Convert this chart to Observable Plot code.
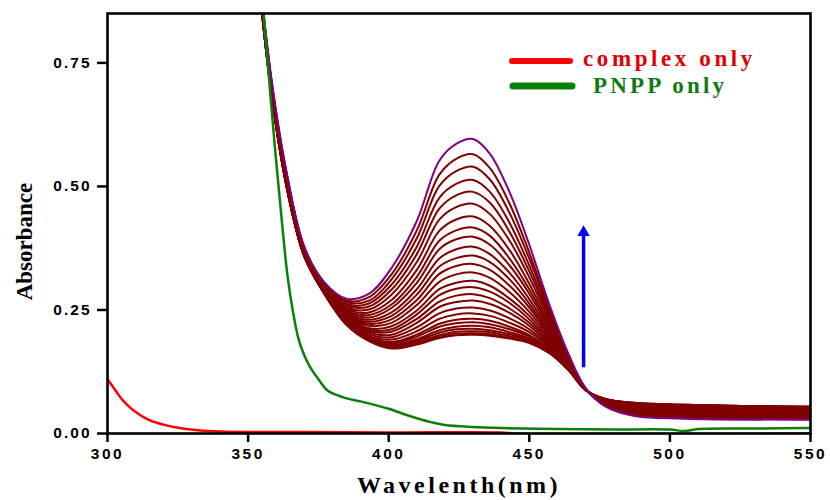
<!DOCTYPE html>
<html>
<head>
<meta charset="utf-8">
<script src="https://cdn.jsdelivr.net/npm/d3@7"></script>
<script src="https://cdn.jsdelivr.net/npm/@observablehq/plot@0.6"></script>
<style>
  body { margin: 0; background: #fff; }
</style>
</head>
<body>
<div id="chart"></div>
<script>
// ---- Data ----
const wavelengths = [352, 358, 364, 370, 377, 385, 393, 401, 410, 418, 424, 430, 436, 443, 450, 457, 464, 470, 477, 487, 505, 550];

// Titration spectra, first (lowest peak) to last (highest peak, drawn in purple)
const titrationSpectra = [
  [1.020, 0.700, 0.490, 0.358, 0.284, 0.220, 0.187, 0.172, 0.180, 0.193, 0.199, 0.200, 0.198, 0.192, 0.183, 0.163, 0.128, 0.088, 0.070, 0.062, 0.058, 0.054],
  [1.020, 0.700, 0.490, 0.358, 0.284, 0.220, 0.188, 0.173, 0.182, 0.196, 0.202, 0.203, 0.201, 0.194, 0.185, 0.164, 0.128, 0.088, 0.070, 0.062, 0.058, 0.054],
  [1.021, 0.701, 0.491, 0.358, 0.284, 0.221, 0.189, 0.175, 0.185, 0.199, 0.206, 0.207, 0.205, 0.197, 0.187, 0.165, 0.129, 0.088, 0.070, 0.062, 0.058, 0.054],
  [1.021, 0.701, 0.491, 0.359, 0.285, 0.222, 0.190, 0.177, 0.188, 0.204, 0.211, 0.212, 0.209, 0.201, 0.189, 0.166, 0.129, 0.088, 0.070, 0.061, 0.057, 0.053],
  [1.021, 0.701, 0.491, 0.359, 0.285, 0.222, 0.191, 0.179, 0.191, 0.209, 0.216, 0.218, 0.215, 0.205, 0.192, 0.168, 0.129, 0.088, 0.069, 0.061, 0.057, 0.053],
  [1.022, 0.702, 0.492, 0.359, 0.285, 0.223, 0.193, 0.182, 0.196, 0.216, 0.223, 0.225, 0.221, 0.211, 0.196, 0.169, 0.130, 0.088, 0.069, 0.060, 0.056, 0.052],
  [1.022, 0.702, 0.492, 0.360, 0.286, 0.224, 0.195, 0.185, 0.200, 0.222, 0.230, 0.232, 0.228, 0.216, 0.199, 0.171, 0.131, 0.088, 0.069, 0.060, 0.056, 0.052],
  [1.023, 0.703, 0.493, 0.360, 0.287, 0.226, 0.197, 0.190, 0.207, 0.232, 0.241, 0.243, 0.238, 0.224, 0.205, 0.174, 0.131, 0.088, 0.068, 0.059, 0.055, 0.051],
  [1.024, 0.704, 0.494, 0.361, 0.287, 0.227, 0.200, 0.195, 0.215, 0.243, 0.253, 0.255, 0.249, 0.233, 0.211, 0.177, 0.132, 0.089, 0.068, 0.058, 0.054, 0.050],
  [1.025, 0.705, 0.495, 0.361, 0.288, 0.229, 0.204, 0.200, 0.224, 0.256, 0.266, 0.269, 0.262, 0.244, 0.218, 0.180, 0.134, 0.089, 0.067, 0.057, 0.053, 0.050],
  [1.026, 0.706, 0.496, 0.362, 0.289, 0.231, 0.207, 0.206, 0.232, 0.267, 0.279, 0.282, 0.274, 0.253, 0.224, 0.184, 0.135, 0.089, 0.067, 0.057, 0.052, 0.049],
  [1.027, 0.707, 0.497, 0.363, 0.290, 0.233, 0.210, 0.211, 0.241, 0.280, 0.293, 0.296, 0.287, 0.264, 0.231, 0.187, 0.136, 0.089, 0.066, 0.056, 0.051, 0.048],
  [1.028, 0.708, 0.498, 0.364, 0.290, 0.235, 0.213, 0.217, 0.249, 0.292, 0.305, 0.309, 0.299, 0.273, 0.238, 0.191, 0.137, 0.089, 0.066, 0.055, 0.050, 0.047],
  [1.030, 0.710, 0.500, 0.364, 0.291, 0.237, 0.218, 0.224, 0.260, 0.307, 0.322, 0.326, 0.315, 0.286, 0.246, 0.195, 0.138, 0.089, 0.065, 0.054, 0.049, 0.046],
  [1.031, 0.711, 0.501, 0.365, 0.292, 0.239, 0.222, 0.231, 0.270, 0.323, 0.339, 0.343, 0.331, 0.299, 0.255, 0.199, 0.140, 0.089, 0.065, 0.053, 0.048, 0.045],
  [1.032, 0.712, 0.502, 0.366, 0.293, 0.241, 0.226, 0.238, 0.281, 0.338, 0.355, 0.360, 0.347, 0.312, 0.263, 0.203, 0.141, 0.090, 0.064, 0.052, 0.047, 0.044],
  [1.033, 0.713, 0.503, 0.367, 0.294, 0.244, 0.230, 0.245, 0.292, 0.354, 0.373, 0.378, 0.363, 0.325, 0.272, 0.208, 0.142, 0.090, 0.063, 0.050, 0.045, 0.042],
  [1.035, 0.715, 0.505, 0.368, 0.296, 0.247, 0.235, 0.254, 0.305, 0.373, 0.393, 0.398, 0.382, 0.340, 0.283, 0.213, 0.144, 0.090, 0.063, 0.049, 0.044, 0.041],
  [1.036, 0.716, 0.506, 0.369, 0.297, 0.249, 0.240, 0.261, 0.317, 0.390, 0.411, 0.417, 0.400, 0.354, 0.292, 0.218, 0.146, 0.090, 0.062, 0.048, 0.043, 0.040],
  [1.038, 0.718, 0.508, 0.370, 0.298, 0.252, 0.245, 0.270, 0.331, 0.410, 0.433, 0.439, 0.420, 0.371, 0.303, 0.223, 0.147, 0.090, 0.061, 0.046, 0.041, 0.038],
  [1.040, 0.720, 0.510, 0.371, 0.299, 0.255, 0.251, 0.281, 0.347, 0.433, 0.458, 0.465, 0.444, 0.390, 0.316, 0.230, 0.149, 0.091, 0.060, 0.045, 0.039, 0.037],
  [1.042, 0.722, 0.512, 0.373, 0.301, 0.259, 0.257, 0.291, 0.363, 0.455, 0.482, 0.489, 0.467, 0.408, 0.328, 0.236, 0.151, 0.091, 0.059, 0.043, 0.038, 0.035],
  [1.044, 0.724, 0.514, 0.374, 0.302, 0.262, 0.263, 0.301, 0.378, 0.477, 0.505, 0.513, 0.489, 0.426, 0.340, 0.242, 0.153, 0.091, 0.058, 0.041, 0.036, 0.034],
  [1.046, 0.726, 0.516, 0.375, 0.304, 0.266, 0.269, 0.312, 0.395, 0.501, 0.531, 0.540, 0.514, 0.446, 0.354, 0.249, 0.155, 0.091, 0.057, 0.040, 0.034, 0.032],
  [1.048, 0.728, 0.518, 0.376, 0.305, 0.269, 0.276, 0.322, 0.411, 0.524, 0.556, 0.565, 0.537, 0.465, 0.366, 0.255, 0.158, 0.092, 0.056, 0.038, 0.032, 0.030],
  [1.050, 0.730, 0.520, 0.378, 0.307, 0.273, 0.283, 0.335, 0.430, 0.552, 0.586, 0.596, 0.566, 0.488, 0.382, 0.263, 0.160, 0.092, 0.055, 0.036, 0.030, 0.028]
];

// "PNPP only" spectrum
const pnppWavelengths = [352, 355.5, 358, 360, 362, 364, 366, 368, 370, 372, 375, 378, 381, 385, 390, 395, 400, 405, 410, 415, 420, 430, 440, 460, 480, 500, 505, 510, 530, 550];
const pnppAbsorbance  = [1.05, 0.85, 0.68, 0.55, 0.43, 0.32, 0.245, 0.19, 0.158, 0.135, 0.11, 0.088, 0.079, 0.071, 0.065, 0.058, 0.050, 0.040, 0.031, 0.023, 0.017, 0.013, 0.011, 0.009, 0.008, 0.008, 0.005, 0.009, 0.010, 0.011];

// "complex only" spectrum
const complexWavelengths = [300, 302, 304.6, 307, 309.4, 312, 315.3, 320, 323.6, 328, 333, 340, 350, 370, 400, 440, 445, 550];
const complexAbsorbance  = [0.110, 0.094, 0.073, 0.058, 0.046, 0.036, 0.026, 0.018, 0.013, 0.009, 0.006, 0.004, 0.003, 0.003, 0.002, 0.002, 0.0, 0.0];

const seriesNames = ["complex only", "PNPP only"];
const xTicks = [300, 350, 400, 450, 500, 550];
const yTicks = [0, 0.25, 0.50, 0.75];
const xLabel = "Wavelenth(nm)";
const yLabel = "Absorbance";

// Blue arrow (increase direction): wavelength, start and tip absorbance
const arrowWavelength = [469.3];
const arrowStart = [0.133];
const arrowTip = [0.420];

// ---- Build tables ----
const spectraRows = titrationSpectra.flatMap((vals, run) =>
  vals.map((abs, j) => ({wl: wavelengths[j], abs, run})));
const lastRun = titrationSpectra.length - 1;
const pnppRows = pnppWavelengths.map((wl, i) => ({wl, abs: pnppAbsorbance[i]}));
const complexRows = complexWavelengths.map((wl, i) => ({wl, abs: complexAbsorbance[i]}));
const arrowRows = arrowWavelength.map((wl, i) => ({wl, y1: arrowStart[i], y2: arrowTip[i] - 0.012, tip: arrowTip[i]}));

const tickFont = {fontFamily: "Liberation Sans, Arial, sans-serif", fontSize: 15.5, fontWeight: "bold"};
const titleFont = {fontFamily: "Liberation Serif, Times New Roman, serif", fontWeight: "bold"};

const plot = Plot.plot({
  width: 830,
  height: 500,
  marginLeft: 107,
  marginRight: 20,
  marginTop: 13,
  marginBottom: 67,
  style: {background: "white", color: "black"},
  x: {domain: [300, 550]},
  y: {domain: [0, 0.85]},
  marks: [
    Plot.line(spectraRows.filter(d => d.run < lastRun), {
      x: "wl", y: "abs", z: "run", stroke: "#800000", strokeWidth: 2,
      curve: "catmull-rom", clip: true
    }),
    Plot.line(spectraRows.filter(d => d.run === lastRun), {
      x: "wl", y: "abs", stroke: "#800080", strokeWidth: 2,
      curve: "catmull-rom", clip: true
    }),
    Plot.line(pnppRows, {
      x: "wl", y: "abs", stroke: "#0a800a", strokeWidth: 2.5,
      curve: "catmull-rom", clip: true
    }),
    Plot.line(complexRows, {
      x: "wl", y: "abs", stroke: "#ff0000", strokeWidth: 2.5,
      curve: "catmull-rom", clip: true
    }),
    Plot.ruleX(arrowRows, {x: "wl", y1: "y1", y2: "y2", stroke: "#0000ff", strokeWidth: 3.5}),
    Plot.dot(arrowRows, {x: "wl", y: "tip", symbol: "triangle", r: 4.6, fill: "#0000ff", stroke: "none", dy: 6.5}),
    Plot.frame({stroke: "black", strokeWidth: 2.6}),
    Plot.axisX({
      ticks: xTicks, tickFormat: d => String(d), tickSize: 9, tickPadding: 5,
      strokeWidth: 2.5, label: null, ...tickFont
    }),
    Plot.axisY({
      ticks: yTicks, tickFormat: d3.format(".2f"), tickSize: 10, tickPadding: 6,
      strokeWidth: 2.5, label: null, ...tickFont
    }),
    Plot.text([xLabel], {
      frameAnchor: "bottom", lineAnchor: "middle", textAnchor: "middle",
      dy: 52, fontSize: 24, ...titleFont
    }),
    Plot.text([yLabel], {
      frameAnchor: "left", lineAnchor: "middle", textAnchor: "middle",
      dx: -83, dy: 18, rotate: -90, fontSize: 23, ...titleFont
    })
  ]
});

const svg = d3.select(plot);
svg.selectAll('g[aria-label="x-axis tick label"] text').attr("letter-spacing", "2.5px");
svg.selectAll('g[aria-label="y-axis tick label"] text').attr("letter-spacing", "2px");
svg.selectAll("text").filter(function() { return this.textContent === xLabel; })
  .attr("letter-spacing", "3.5px");

// Legend inside the plot area
const legend = svg.append("g").attr("aria-label", "legend").attr("text-anchor", "start");
const legendColors = ["#ff0000", "#0a800a"];
const legendTextColors = ["#e00000", "#127a12"];
const legendItems = [
  {x1: 512, x2: 570, y: 61, w: 6, tx: 583, ty: 66, ls: 3.6},
  {x1: 513, x2: 572, y: 86, w: 7, tx: 593, ty: 93, ls: 3.2}
];
legendItems.forEach((it, i) => {
  legend.append("line")
    .attr("x1", it.x1).attr("x2", it.x2).attr("y1", it.y).attr("y2", it.y)
    .attr("stroke", legendColors[i]).attr("stroke-width", it.w).attr("stroke-linecap", "round");
  legend.append("text")
    .attr("x", it.tx).attr("y", it.ty)
    .attr("text-anchor", "start")
    .attr("fill", legendTextColors[i])
    .attr("font-family", "Liberation Serif, Times New Roman, serif")
    .attr("font-weight", "bold").attr("font-size", 23)
    .attr("letter-spacing", it.ls + "px")
    .text(seriesNames[i]);
});

document.getElementById("chart").appendChild(plot);
</script>
</body>
</html>
